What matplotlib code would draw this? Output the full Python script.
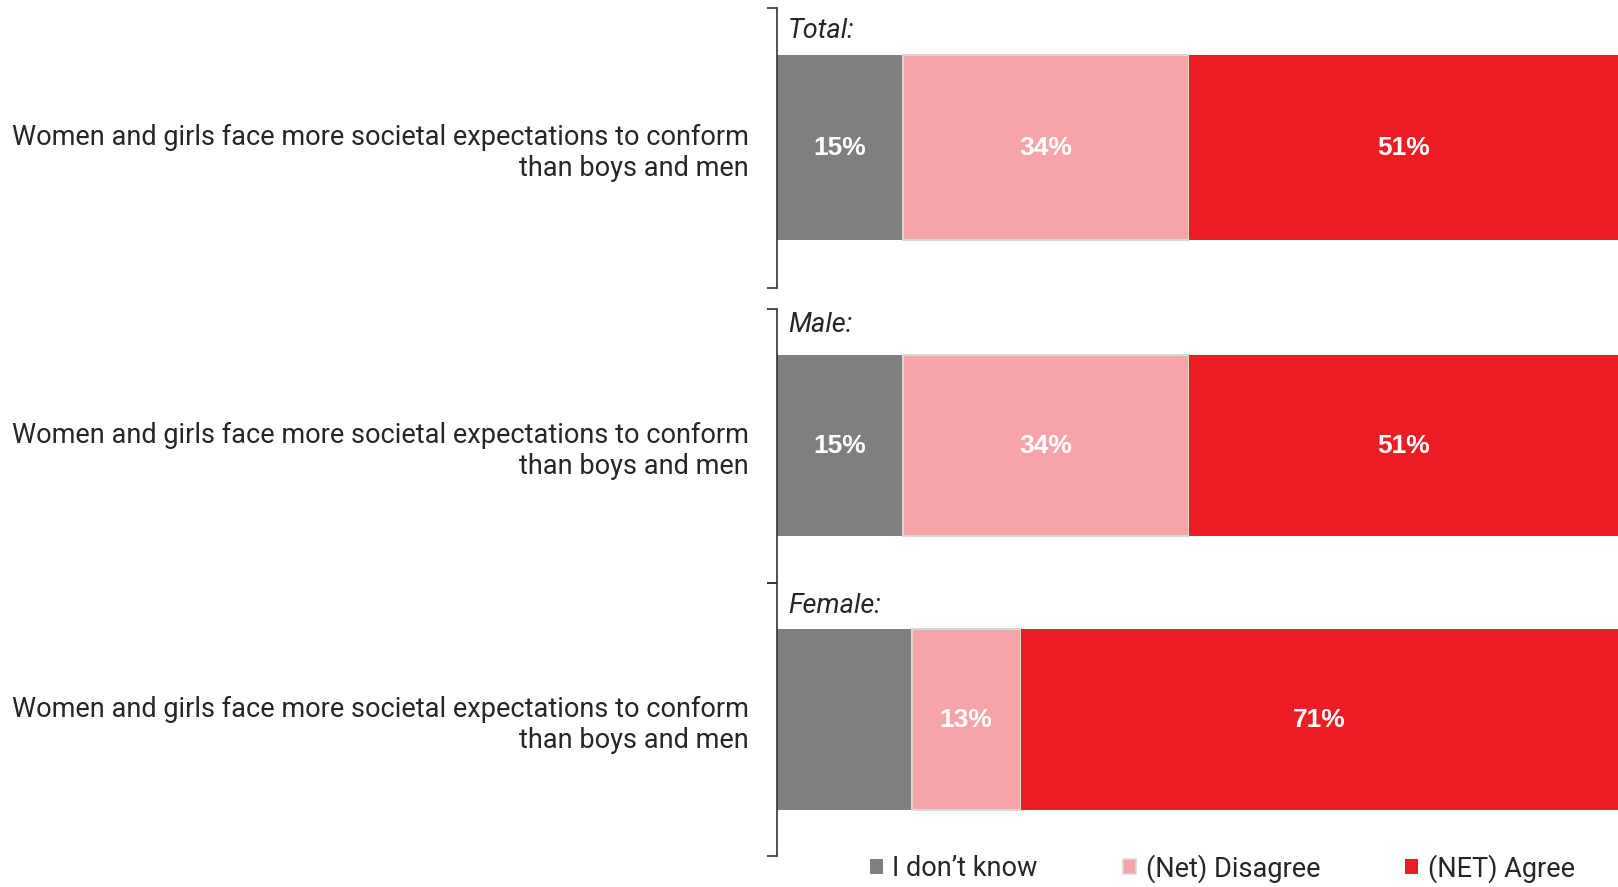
import matplotlib.pyplot as plt
from matplotlib.patches import Patch

plt.rcParams['font.family'] = ['Roboto', 'DejaVu Sans']

statement = "Women and girls face more societal expectations to conform\nthan boys and men"
groups = ["Total:", "Male:", "Female:"]
responses = ["I don\u2019t know", "(Net) Disagree", "(NET) Agree"]
dont_know = [15, 15, 16]
disagree = [34, 34, 13]
agree = [51, 51, 71]
# the "I don't know" share is only labelled for the first two groups
show_dont_know = [True, True, False]

colors = ["#7f7f7f", "#f6a4a7", "#ec1c24"]
edges = ["#7f7f7f", "#d9d9d9", "#ec1c24"]
text_color = "#262626"

W, H = 1618, 887
fig = plt.figure(figsize=(W / 100, (H + 0.4) / 100), dpi=100)

# panel extents in pixels (top, bottom) and title positions
panels = [(8, 288), (309, 583), (583, 856)]
title_y = [31, 325, 606]
x0 = 777

for i, g in enumerate(groups):
    top, bot = panels[i]
    ax = fig.add_axes([x0 / W, 1 - bot / H, 1 - x0 / W, (bot - top) / H])
    vals = [dont_know[i], disagree[i], agree[i]]
    left = 0
    for j, v in enumerate(vals):
        ax.barh(0, v, left=left, height=0.66, color=colors[j],
                edgecolor=edges[j], linewidth=1.5 if j == 1 else 0)
        if j > 0 or show_dont_know[i]:
            ax.text(left + v / 2, 0, f"{v}%", ha='center', va='center',
                    color='white', fontsize=19, fontweight='bold',
                    family=['Liberation Sans', 'DejaVu Sans'])
        left += v
    ax.set_xlim(0, 100)
    ax.set_ylim(-0.5, 0.5)
    ax.invert_yaxis()
    for s in ['top', 'right', 'bottom']:
        ax.spines[s].set_visible(False)
    ax.spines['left'].set_color('#333333')
    ax.spines['left'].set_linewidth(1.2)
    ax.set_xticks([])
    # bracket ends
    ax.set_yticks([-0.5, 0.5])
    ax.set_yticklabels([])
    ax.tick_params(axis='y', which='major', length=7, width=1.2, color='#333333', direction='out')
    ax.set_yticks([0], minor=True)
    ax.set_yticklabels([statement], minor=True, fontsize=19.5, color=text_color,
                       ha='right', linespacing=1.2)
    ax.tick_params(axis='y', which='minor', length=0, pad=20)

    fig.text(788 / W, 1 - title_y[i] / H, g, fontsize=19.5, style='italic',
             color=text_color, ha='left', va='center')

handles = [Patch(facecolor=colors[k], edgecolor=edges[k], linewidth=1.2 if k == 1 else 0)
           for k in range(3)]
fig.legend(handles, responses, loc='center left', ncol=3,
           bbox_to_anchor=(870 / W, 1 - 868 / H), frameon=False,
           fontsize=19.5, handlelength=0.48, handleheight=0.48,
           handletextpad=0.35, columnspacing=3.15, borderpad=0,
           borderaxespad=0, labelcolor=text_color)

fig.savefig("out.png", dpi=100)
